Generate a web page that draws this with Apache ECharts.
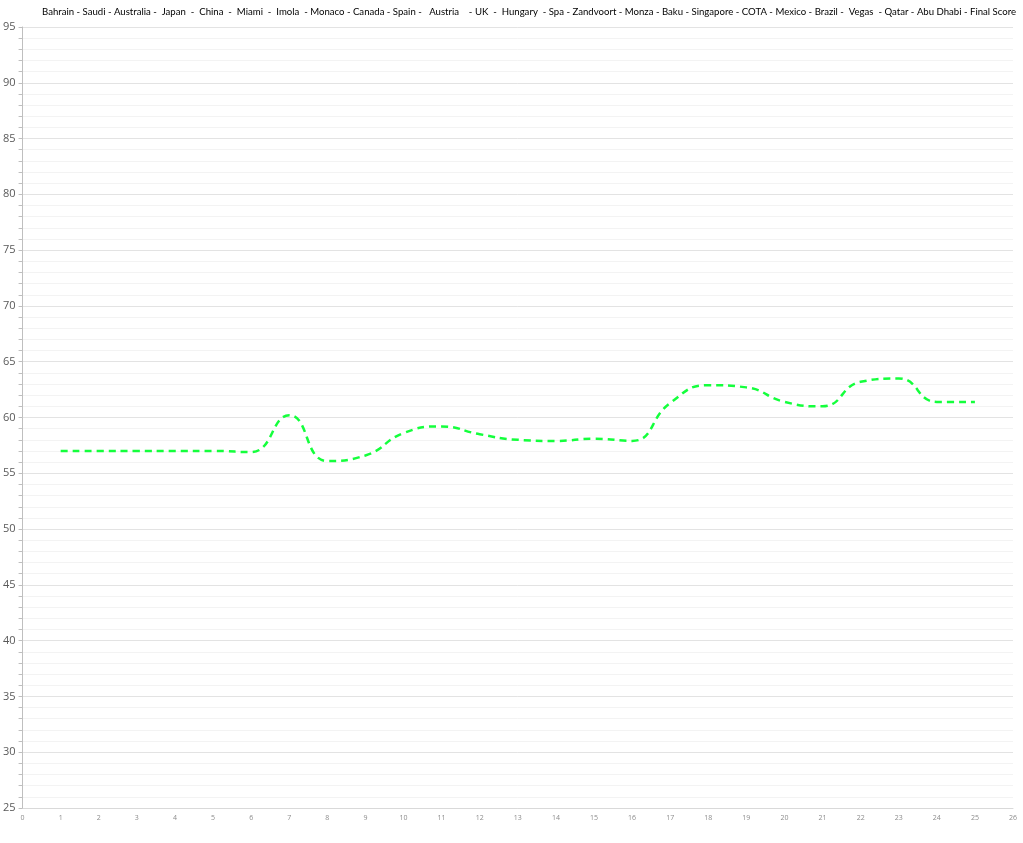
<!DOCTYPE html>
<html>
<head>
<meta charset="utf-8">
<script src="https://cdn.jsdelivr.net/npm/echarts@6/dist/echarts.min.js"></script>
<style>html,body{margin:0;padding:0;background:#fff}#c{width:1023px;height:843px}</style>
</head>
<body>
<div id="c"></div>
<script>
const titleText = "Bahrain - Saudi - Australia -  Japan  -  China  -  Miami  -  Imola  - Monaco - Canada - Spain -   Austria    - UK  -  Hungary  - Spa - Zandvoort - Monza - Baku - Singapore - COTA - Mexico - Brazil -  Vegas  - Qatar - Abu Dhabi - Final Score";
const rounds = [1,2,3,4,5,6,7,8,9,10,11,12,13,14,15,16,17,18,19,20,21,22,23,24,25];
const scores = [57,57,57,57,57,56.9,60.2,56.1,56.6,58.6,59.2,58.5,58.0,57.9,58.1,57.9,61.3,62.9,62.7,61.4,61.0,63.2,63.5,61.4,61.4];
const yMin = 25, yMax = 95, yStep = 5;
const xMin = 0, xMax = 26, xStep = 1;

const chart = echarts.init(document.getElementById('c'), null, {renderer:'canvas'});
chart.setOption({
  animation:false,
  backgroundColor:'#fff',
  title:{
    text:titleText, left:42, top:7, padding:0,
    textStyle:{fontFamily:'Lato', fontSize:9.6, fontWeight:'normal', color:'#000'}
  },
  grid:{left:22, right:10, top:27, bottom:35, containLabel:false},
  xAxis:{
    type:'value', min:xMin, max:xMax, interval:xStep,
    axisLine:{show:true, lineStyle:{color:'#d9d9d9'}},
    axisTick:{show:false},
    axisLabel:{fontSize:7, color:'#8c8c8c', margin:6, fontFamily:'Open Sans'},
    splitLine:{show:false}
  },
  yAxis:{
    type:'value', min:yMin, max:yMax, interval:yStep,
    axisLine:{show:true, lineStyle:{color:'#bfbfbf'}},
    axisTick:{show:true, inside:false, length:4, lineStyle:{color:'#bfbfbf'}},
    minorTick:{show:true, splitNumber:5, length:4, lineStyle:{color:'#bfbfbf'}},
    axisLabel:{fontSize:11, color:'#595959', margin:7, fontFamily:'Open Sans'},
    splitLine:{show:true, lineStyle:{color:'#e3e3e3'}},
    minorSplitLine:{show:true, lineStyle:{color:'#f3f3f3'}}
  },
  series:[{
    type:'line',
    data:rounds.map((r,i)=>[r,scores[i]]),
    smooth:0.5,
    showSymbol:false,
    lineStyle:{color:'#14ff3c', width:2.5, type:[7,5]}
  }]
});
</script>
</body>
</html>
